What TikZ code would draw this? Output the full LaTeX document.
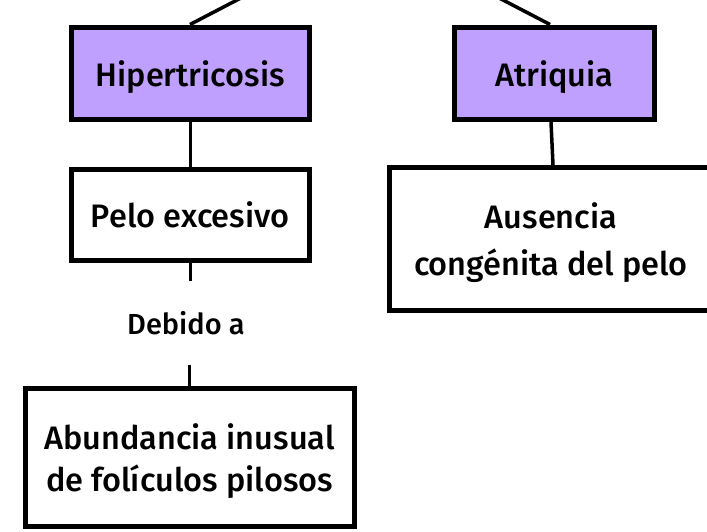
\documentclass[tikz,border=0pt]{standalone}
\usepackage{fontspec}
\setmainfont{Fira Sans}[UprightFont=* Medium]
\usetikzlibrary{calc}
\definecolor{boxpurple}{RGB}{191,160,255}
\begin{document}
\begin{tikzpicture}[x=1pt,y=-1pt,
  box/.style={draw=black,line width=5pt,rectangle,inner sep=0pt,align=center,text depth=0pt,font=\fontsize{32.5}{42}\selectfont},
  topbox/.style={box,fill=boxpurple},
  conn/.style={draw=black,line width=3.5pt},
  lbl/.style={inner sep=0pt,minimum height=83pt,text depth=0pt,font=\fontsize{29}{34}\selectfont}]
\useasboundingbox (0,0) rectangle (707,531);
\clip (0,0) rectangle (707,531);
\node[topbox,minimum width=237.5pt,minimum height=92.5pt] (hip) at (190.25,73.25) {Hipertricosis};
\node[topbox,minimum width=200pt,minimum height=92.5pt] (atr) at (554.5,73.25) {Atriquia};
\node[box,minimum width=237.5pt,minimum height=91.5pt] (pel) at (190.25,214.75) {Pelo excesivo};
\node[box,minimum width=323pt,minimum height=143pt,font=\fontsize{32.5}{47}\selectfont] (aus) at (551,239) {Ausencia\\congénita del pelo};
\node[lbl] (deb) at (186,323) {Debido a};
\node[box,minimum width=329pt,minimum height=138pt] (abu) at (189.5,457.5) {Abundancia inusual\\de folículos pilosos};
\coordinate (tl) at (256.2,-10);
\coordinate (tr) at (483.8,-10);
\draw[conn] ($(hip.north)+(-0.25,0)$) -- (tl);
\draw[conn] ($(atr.north)+(-4.5,0)$) -- (tr);
\draw[conn] (hip.south) -- (pel.north);
\draw[conn] ($(atr.south)+(-3.5,0)$) -- ($(aus.north)+(2,0)$);
\draw[conn] (pel.south) -- (pel.south |- deb.north);
\draw[conn] (abu.north |- deb.south) -- (abu.north);
\end{tikzpicture}
\end{document}
